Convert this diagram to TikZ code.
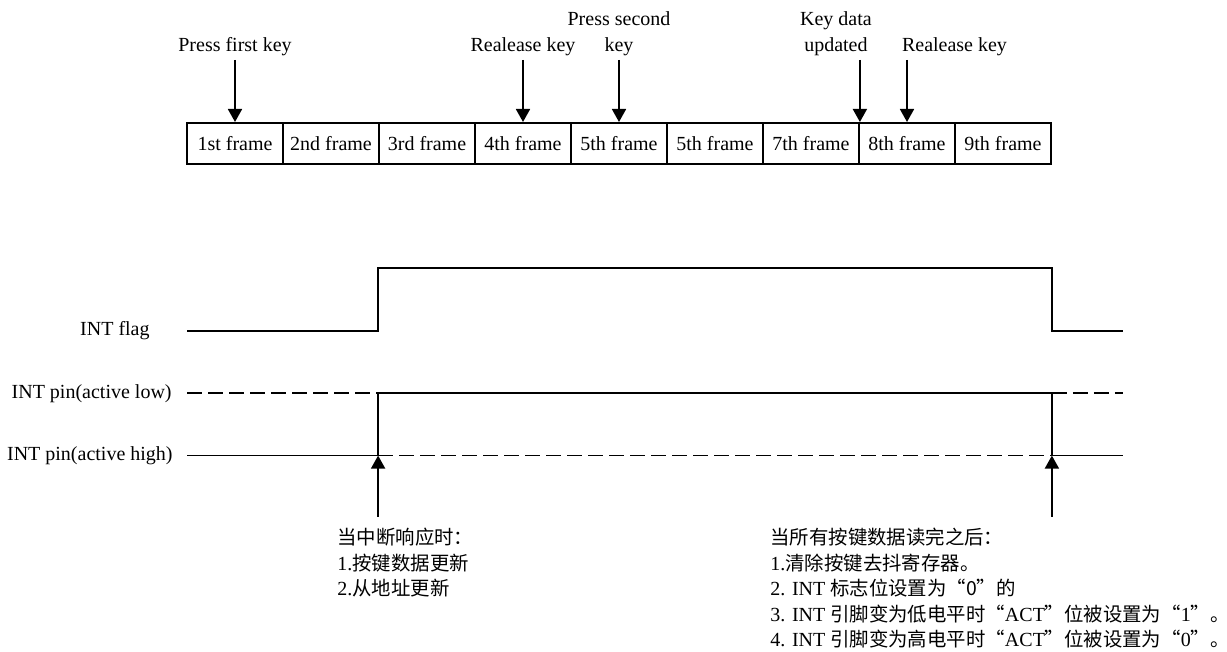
\documentclass[tikz,border=0pt]{standalone}
\usepackage{fontspec}
\setmainfont{Liberation Serif}
\newfontfamily\cjk[Scale=0.97]{Noto Sans CJK SC}
\usetikzlibrary{positioning,arrows.meta}

\begin{document}
\begin{tikzpicture}[node distance=48pt,on grid,font=\fontsize{10pt}{12.75pt}\selectfont,
		frame/.style={draw,line width=0.9pt,minimum width=48pt,minimum height=20.5pt,inner sep=0pt},
		keylbl/.style={anchor=south,align=center,inner sep=2pt},
		siglbl/.style={anchor=east,inner sep=0pt},
		note/.style={anchor=north west,align=left,inner sep=0pt},
		arr/.style={-{Triangle[length=6.5pt,width=7pt]},line width=0.9pt},
		sig/.style={line width=0.9pt},
		dsig/.style={sig,dash pattern=on 7.5pt off 3pt}]
		\useasboundingbox (0,0) rectangle (613.5pt,326pt);

		\node[frame]	(f1)	at (117.5pt,254.3pt)	{1st frame};
		\node[frame]	(f2)	[right=of f1]			{2nd frame};
		\node[frame]	(f3)	[right=of f2]			{3rd frame};
		\node[frame]	(f4)	[right=of f3]			{4th frame};
		\node[frame]	(f5)	[right=of f4]			{5th frame};
		\node[frame]	(f6)	[right=of f5]			{5th frame};
		\node[frame]	(f7)	[right=of f6]			{7th frame};
		\node[frame]	(f8)	[right=of f7]			{8th frame};
		\node[frame]	(f9)	[right=of f8]			{9th frame};

		\node[keylbl]	(k1)	at ([yshift=31pt]f1.north)				{Press first key};
		\node[keylbl]	(k2)	at ([yshift=31pt]f4.north)				{Realease key};
		\node[keylbl]	(k3)	at ([yshift=31pt]f5.north)				{Press second\\key};
		\node[keylbl]	(k4)	at ([xshift=-12pt,yshift=31pt]f7.north east)	{Key data\\updated};
		\node[keylbl]	(k5)	at ([xshift=23.75pt,yshift=31pt]f8.north)	{Realease key};

		\draw[arr]	(k1) -- (f1);
		\draw[arr]	(k2) -- (f4);
		\draw[arr]	(k3) -- (f5);
		\draw[arr]	(k4.south -| f7.north east) -- (f7.north east);
		\draw[arr]	(k5.south -| f8.north) -- (f8.north);

		\coordinate	(fl)	at (93.5pt,160.6pt);
		\coordinate	(lo)	at (93.5pt,129.3pt);
		\coordinate	(hi)	at (93.5pt,98.2pt);
		\coordinate	(end)	at (561.5pt,0pt);

		\node[siglbl]	(lfl)	at (75pt,160.6pt)			{INT flag};
		\node[siglbl]	(llo)	at ([xshift=-7.5pt]lo)		{INT pin(active low)};
		\node[siglbl]	(lhi)	at ([xshift=-7pt]hi)		{INT pin(active high)};

		\draw[sig]	(fl) -- (fl -| f3.west) |- ([yshift=31.4pt]fl -| f9.east) |- (fl -| end);

		\draw[dsig]	(lo) -- (lo -| f3.west);
		\draw[sig]	(hi -| f3.west) -- (lo -| f3.west) -- (lo -| f9.east) -- (hi -| f9.east);
		\draw[dsig]	(lo -| f9.east) -- (lo -| end);

		\draw[sig]	(hi) -- (hi -| f3.west);
		\draw[dsig]	(hi -| f3.west) -- (hi -| f9.east);
		\draw[sig]	(hi -| f9.east) -- (hi -| end);

		\coordinate	(r1)	at (f3.west |- 0,67.5pt);
		\coordinate	(r2)	at (f9.east |- 0,67.5pt);
		\draw[arr]	(r1) -- (hi -| f3.west);
		\draw[arr]	(r2) -- (hi -| f9.east);

		\node[note]	(n1)	at (168.5pt,62pt)	{{\cjk 当中断响应时：}\\
			1.{\cjk 按键数据更新}\\
			2.{\cjk 从地址更新}};
		\node[note]	(n2)	at (385pt,62pt)	{{\cjk 当所有按键数据读完之后：}\\
			1.{\cjk 清除按键去抖寄存器。}\\
			2. INT {\cjk 标志位设置为“0”的}\\
			3. INT {\cjk 引脚变为低电平时“}ACT{\cjk ”位被设置为“}1{\cjk ”。}\\
			4. INT {\cjk 引脚变为高电平时“}ACT{\cjk ”位被设置为“}0{\cjk ”。}};
\end{tikzpicture}
\end{document}
